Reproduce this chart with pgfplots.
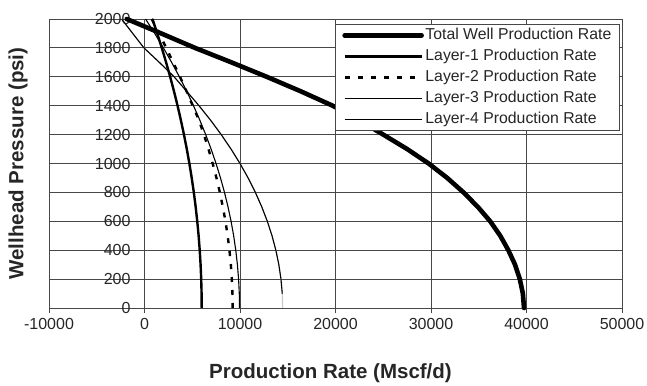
\documentclass[border=0pt]{standalone}
\usepackage{fontspec}
\setmainfont{Liberation Sans}
\usepackage{pgfplots}
\pgfplotsset{compat=1.18}
\usepackage{pgfplotstable}

\pgfplotstableread{
p total
0 39740
100 39620
200 39300
300 38800
400 38100
500 37250
600 36200
700 34900
800 33400
900 31700
1000 29750
1100 27500
1200 25000
1300 22450
1400 19700
1500 16350
1600 12800
1700 9100
1800 5290
1900 1750
2000 -1860
}\totaldata

\pgfplotstableread{
p l1 l2 l3 l4
0 5990 9230 9950 14470
100 5977 9209 9926 14425
200 5938 9146 9852 14290
300 5873 9041 9729 14067
400 5783 8895 9557 13755
500 5667 8707 9336 13352
600 5525 8477 9065 12860
700 5357 8205 8745 12279
800 5164 7892 8376 11609
900 4945 7537 7958 10849
1000 4700 7139 7491 10000
1100 4429 6701 6974 9061
1200 4132 6220 6408 8033
1300 3809 5697 5793 6915
1400 3461 5050 5129 5708
1500 3087 4400 4416 4412
1600 2687 3720 3653 3100
1700 2261 3000 2841 1551
1800 1810 2280 1980 -60
1900 1333 1520 1070 -1230
2000 829 760 111 -2400
}\layerdata

\pgfplotstableread{
p l4
100 14425
200 14290
300 14067
400 13755
500 13352
600 12860
700 12279
800 11609
900 10849
1000 10000
1100 9061
1200 8033
1300 6915
1400 5708
1500 4412
1600 3100
1700 1551
1800 -60
1900 -1230
2000 -2400
}\layerfour

\begin{document}
\begin{tikzpicture}
\useasboundingbox (-49pt,-77pt) rectangle (598pt,308pt);
\begin{axis}[
  at={(0pt,0pt)}, anchor=south west,
  scale only axis, width=573pt, height=289pt,
  xmin=-10000, xmax=50000, ymin=0, ymax=2000,
  xtick={-10000,0,10000,20000,30000,40000,50000},
  ytick={0,200,...,2000},
  scaled x ticks=false, scaled y ticks=false,
  grid=major,
  grid style={color=black!72, line width=0.9pt},
  axis line style={color=black!72, line width=0.9pt},
  xtick pos=bottom, ytick pos=left,
  tick align=outside,
  x tick style={color=black!72, line width=0.9pt},
  major tick length=5pt,
  y tick style={draw=none},
  /pgf/number format/assume math mode=true,
  /pgf/number format/1000 sep={},
  tick label style={font=\fontsize{16}{18}\selectfont, color=black!85},
  yticklabel style={anchor=east, xshift=90pt},
  xticklabel style={yshift=-2pt},
  xlabel={Production Rate (Mscf/d)},
  ylabel={Wellhead Pressure (psi)},
  xlabel style={font=\fontsize{20.5}{24}\selectfont\bfseries, color=black!85, at={(axis description cs:0.5,0)}, anchor=center, yshift=-65pt, xshift=-5pt},
  ylabel style={font=\fontsize{20.5}{24}\selectfont\bfseries, color=black!85, at={(axis description cs:-0.0541,0.5)}, anchor=center},
  clip=false,
  legend style={at={(rel axis cs:0.997,0.983)}, anchor=north east,
    draw=black!72, line width=0.9pt, fill=white,
    font=\fontsize{15.8}{18}\selectfont, text=black!85,
    inner xsep=7pt, inner ysep=1.5pt, row sep=2pt,
    nodes={inner sep=1.5pt, text height=12pt, text depth=4pt}},
  legend cell align=left,
  legend image code/.code={\draw[#1] (0pt,0pt) -- (77pt,0pt);},
]
\addplot[forget plot, color=black!22, line width=1.1pt] table[x=l4, y=p] {\layerdata};
\addplot[color=black, line width=4.6pt, line cap=round] table[x=total, y=p] {\totaldata};
\addlegendentry{Total Well Production Rate}
\addplot[color=black, line width=2.4pt] table[x=l1, y=p] {\layerdata};
\addlegendentry{Layer-1 Production Rate}
\addplot[color=black, line width=2.4pt, dash pattern=on 5pt off 8pt] table[x=l2, y=p] {\layerdata};
\addlegendentry{Layer-2 Production Rate}
\addplot[color=black, line width=1.1pt] table[x=l3, y=p] {\layerdata};
\addlegendentry{Layer-3 Production Rate}
\addplot[color=black, line width=1.1pt] table[x=l4, y=p] {\layerfour};
\addlegendentry{Layer-4 Production Rate}
\end{axis}
\end{tikzpicture}
\end{document}
